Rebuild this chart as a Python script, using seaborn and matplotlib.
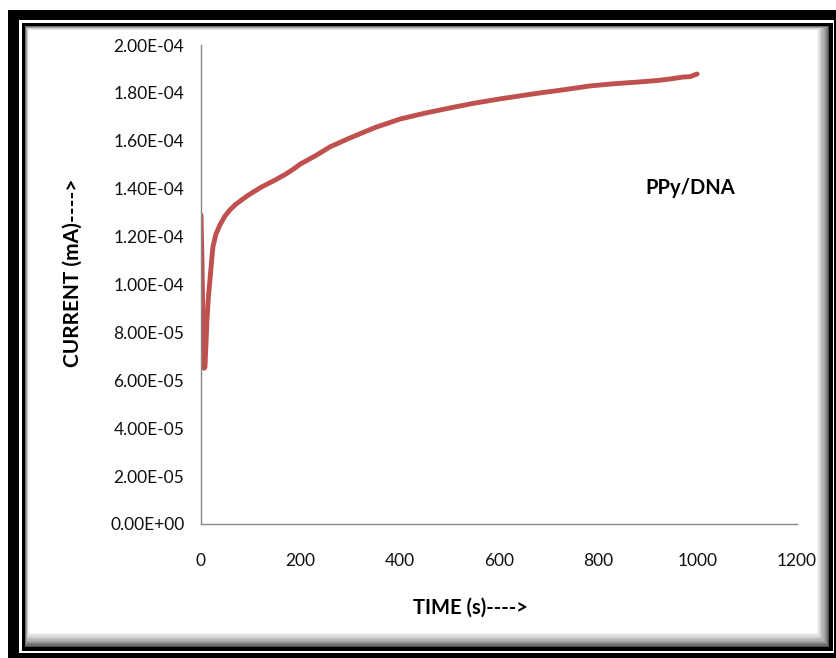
import matplotlib
matplotlib.use("Agg")
import matplotlib.pyplot as plt
from matplotlib.patches import Rectangle
from matplotlib.ticker import FuncFormatter, MultipleLocator
import seaborn as sns
import pandas as pd

# ---- data ----
time_s = [0, 2, 4, 6, 8, 10, 12, 15, 18, 21, 24, 30, 38, 48, 58, 70, 93,
          120, 149, 170, 189, 200, 230, 260, 300, 350, 401, 450, 501, 550,
          602, 650, 683, 730, 783, 830, 884, 920, 944, 970, 985, 999]
current_mA = [1.29e-4, 1.10e-4, 8.2e-5, 6.5e-5, 6.56e-5, 7.5e-5, 8.52e-5,
              9.5e-5, 1.019e-4, 1.09e-4, 1.157e-4, 1.21e-4, 1.248e-4,
              1.285e-4, 1.311e-4, 1.335e-4, 1.370e-4, 1.405e-4, 1.436e-4,
              1.460e-4, 1.486e-4, 1.503e-4, 1.537e-4, 1.575e-4, 1.612e-4,
              1.655e-4, 1.691e-4, 1.715e-4, 1.737e-4, 1.757e-4, 1.775e-4,
              1.790e-4, 1.800e-4, 1.813e-4, 1.829e-4, 1.838e-4, 1.846e-4,
              1.852e-4, 1.858e-4, 1.866e-4, 1.868e-4, 1.879e-4]
series_label = "PPy/DNA"
x_ticks = [0, 200, 400, 600, 800, 1000, 1200]

df = pd.DataFrame({"time": time_s, "current": current_mA})

W, H = 836, 658
sns.set_style("white")
plt.rcParams["font.family"] = ["Lato", "DejaVu Sans"]

fig = plt.figure(figsize=(W / 100, H / 100), dpi=100)


def prect(x0, y0, x1, y1, color):
    fig.patches.append(Rectangle((x0 / W, 1 - y1 / H), (x1 - x0) / W, (y1 - y0) / H,
                                 transform=fig.transFigure, facecolor=color,
                                 edgecolor="none", zorder=-10))

# frame
prect(8, 10, W + 5, H + 5, "black")
prect(19, 20, 834, 653, "white")
prect(22, 23, 833, 651, "black")
n = 12
for i in range(n):
    g = 0.30 + 0.70 * (i / (n - 1)) ** 0.7
    prect(25 + i * 0.35, 26 + i * 0.35, 829 - i * 1.1, 647 - i * 1.3, (g, g, g))
prect(25 + n * 0.35, 26 + n * 0.35, 829 - n * 1.1, 647 - n * 1.3, "white")

ax = fig.add_axes([201 / W, 1 - 524 / H, (797 - 201) / W, (524 - 45) / H])
ax.set_zorder(5)
ax.set_facecolor("none")
sns.lineplot(data=df, x="time", y="current", ax=ax, color="#C0504D",
             linewidth=3.5, solid_capstyle="round", solid_joinstyle="round",
             legend=False)

ax.set_xlim(0, 1200)
ax.set_ylim(0, 2.0e-4)
ax.set_xticks(x_ticks)
ax.yaxis.set_major_locator(MultipleLocator(2e-5))
ax.yaxis.set_major_formatter(FuncFormatter(lambda v, p: f"{v:.2E}"))
ax.set_xlabel("")
ax.set_ylabel("")

for s in ["top", "right"]:
    ax.spines[s].set_visible(False)
for s in ["left", "bottom"]:
    ax.spines[s].set_color("#868686")
    ax.spines[s].set_linewidth(1.0)

ax.tick_params(axis="y", direction="out", length=4, width=1, color="#868686",
               pad=8, labelsize=12.5, labelcolor="#111111")
ax.tick_params(axis="x", direction="out", length=4, width=1, color="#868686",
               pad=17, labelsize=12.5, labelcolor="#111111")

fig.text(73 / W, 1 - 273 / H, "CURRENT (mA)---->", rotation=90, ha="center",
         va="center", fontsize=15, fontweight="bold", color="black")
fig.text(470 / W, 1 - 608 / H, "TIME (s)---->", ha="center", va="center",
         fontsize=14.5, fontweight="bold", color="black")
ax.text((645 - 201) / 596, (524 - 188) / 479, series_label, transform=ax.transAxes,
        ha="left", va="center", fontsize=14.5, fontweight="bold", color="black")

fig.savefig("out.png", dpi=100)
